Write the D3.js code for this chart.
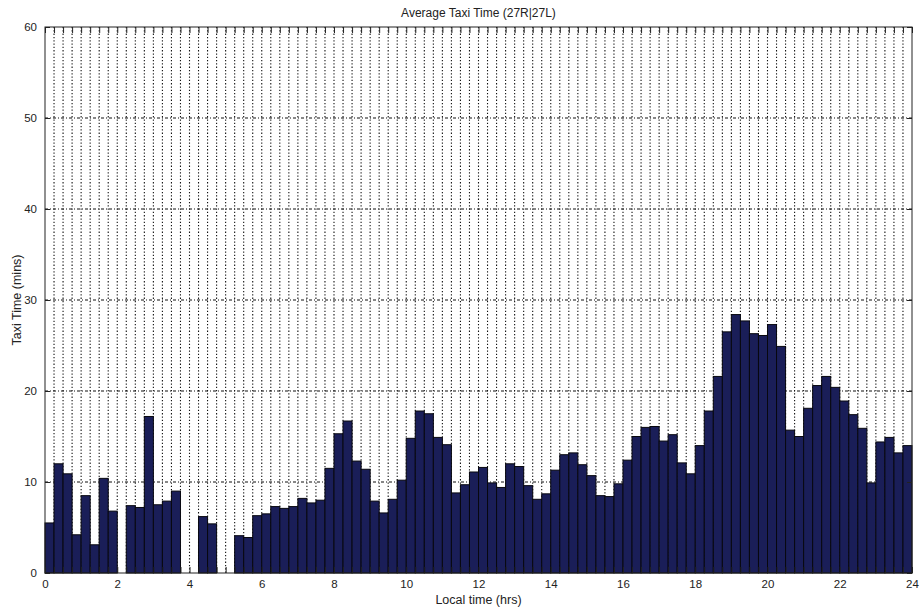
<!DOCTYPE html>
<html>
<head>
<meta charset="utf-8">
<script src="https://cdn.jsdelivr.net/npm/d3@7"></script>
<style>
  html, body { margin: 0; padding: 0; background: #fff; }
  svg { display: block; }
  text { font-family: "Liberation Sans", Arial, Helvetica, sans-serif; fill: #222; }
</style>
</head>
<body>
<svg id="chart" width="923" height="612"></svg>
<script>
// Average taxi time per 15-minute bin over the day (minutes)
const binWidthHrs = 0.25;
const taxiTimes = [
  5.5, 12.0, 10.9, 4.2, 8.5, 3.1, 10.4, 6.8,
  0, 7.4, 7.2, 17.2, 7.5, 7.9, 9.0, 0,
  0, 6.2, 5.4, 0, 0, 4.1, 3.9, 6.3,
  6.5, 7.3, 7.1, 7.3, 8.2, 7.7, 8.0, 11.5,
  15.3, 16.7, 12.3, 11.4, 7.9, 6.6, 8.1, 10.2,
  14.8, 17.8, 17.5, 14.9, 14.1, 8.8, 9.7, 11.1,
  11.6, 9.9, 9.4, 12.0, 11.7, 9.6, 8.1, 8.7,
  11.3, 13.0, 13.2, 11.9, 10.7, 8.5, 8.4, 9.8,
  12.4, 15.0, 16.0, 16.1, 14.5, 15.2, 12.1, 10.9,
  14.0, 17.8, 21.6, 26.5, 28.4, 27.7, 26.3, 26.1,
  27.3, 24.9, 15.7, 15.0, 18.1, 20.6, 21.6, 20.4,
  18.9, 17.4, 15.9, 9.9, 14.4, 14.9, 13.2, 14.0
];
const binStarts = taxiTimes.map((_, i) => i * binWidthHrs);
const xTickLabels = [0, 2, 4, 6, 8, 10, 12, 14, 16, 18, 20, 22, 24];
const yTickLabels = [0, 10, 20, 30, 40, 50, 60];
const minorTicks = d3.range(0, 24 + 1e-9, binWidthHrs);

const titleText = "Average Taxi Time (27R|27L)";
const xLabelText = "Local time (hrs)";
const yLabelText = "Taxi Time (mins)";

const svg = d3.select("#chart");
const m = { left: 45, right: 11, top: 27, bottom: 39 };
const W = 923, H = 612;
const pw = W - m.left - m.right, ph = H - m.top - m.bottom;

const x = d3.scaleLinear().domain([0, 24]).range([0, pw]);
const y = d3.scaleLinear().domain([0, 60]).range([ph, 0]);

const g = svg.append("g").attr("transform", `translate(${m.left},${m.top})`);

// vertical dotted grid at every bin edge
g.append("g").selectAll("line").data(minorTicks.slice(1, -1)).join("line")
  .attr("x1", d => x(d)).attr("x2", d => x(d))
  .attr("y1", 0).attr("y2", ph)
  .attr("stroke", "#111").attr("stroke-width", 1.1)
  .attr("stroke-dasharray", "1.3,2");

// horizontal dashed grid at the y ticks
g.append("g").selectAll("line").data(yTickLabels.slice(1, -1)).join("line")
  .attr("x1", 0).attr("x2", pw)
  .attr("y1", d => y(d)).attr("y2", d => y(d))
  .attr("stroke", "#111").attr("stroke-width", 1.1)
  .attr("stroke-dasharray", "3,2,1,2");

// bars
g.append("g").selectAll("rect").data(taxiTimes).join("rect")
  .attr("x", (d, i) => x(binStarts[i]))
  .attr("width", (d, i) => x(binStarts[i] + binWidthHrs) - x(binStarts[i]))
  .attr("y", d => y(d))
  .attr("height", d => y(0) - y(d))
  .attr("fill", d => d > 0 ? "#1a1e58" : "none")
  .attr("stroke", d => d > 0 ? "#08080f" : "none")
  .attr("stroke-width", 1);

// axes box
g.append("rect").attr("x", 0).attr("y", 0).attr("width", pw).attr("height", ph)
  .attr("fill", "none").attr("stroke", "#222").attr("stroke-width", 1);

// bottom axis: labels every 2 hours, inward ticks at every bin edge
const xAxis = d3.axisBottom(x).tickValues(xTickLabels).tickSize(0).tickPadding(7)
  .tickFormat(d3.format("d"));
const xa = g.append("g").attr("transform", `translate(0,${ph})`).call(xAxis);
xa.select(".domain").remove();
xa.selectAll("text").attr("font-size", 11.5).attr("fill", "#222");

const xTop = d3.axisTop(x).tickValues(minorTicks).tickSizeInner(-6).tickSizeOuter(0).tickFormat("");
const xt = g.append("g").call(xTop);
xt.select(".domain").remove();
xt.selectAll("line").attr("stroke", "#222");

const xBot = d3.axisBottom(x).tickValues(minorTicks).tickSizeInner(-6).tickSizeOuter(0).tickFormat("");
const xb = g.append("g").attr("transform", `translate(0,${ph})`).call(xBot);
xb.select(".domain").remove();
xb.selectAll("line").attr("stroke", "#222");

// left and right axes
const yAxis = d3.axisLeft(y).tickValues(yTickLabels).tickSizeInner(-5).tickSizeOuter(0).tickPadding(8);
const ya = g.append("g").call(yAxis);
ya.select(".domain").remove();
ya.selectAll("text").attr("font-size", 11.5).attr("fill", "#222");
ya.selectAll("line").attr("stroke", "#222");

const yRight = d3.axisRight(y).tickValues(yTickLabels).tickSizeInner(-5).tickSizeOuter(0).tickFormat("");
const yr = g.append("g").attr("transform", `translate(${pw},0)`).call(yRight);
yr.select(".domain").remove();
yr.selectAll("line").attr("stroke", "#222");

// titles
svg.append("text").attr("x", m.left + pw / 2).attr("y", 17)
  .attr("text-anchor", "middle").attr("font-size", 12).text(titleText);
svg.append("text").attr("x", m.left + pw / 2).attr("y", 604)
  .attr("text-anchor", "middle").attr("font-size", 12.5).text(xLabelText);
svg.append("text")
  .attr("transform", `translate(21,${m.top + ph / 2}) rotate(-90)`)
  .attr("text-anchor", "middle").attr("font-size", 12.5).text(yLabelText);
</script>
</body>
</html>
